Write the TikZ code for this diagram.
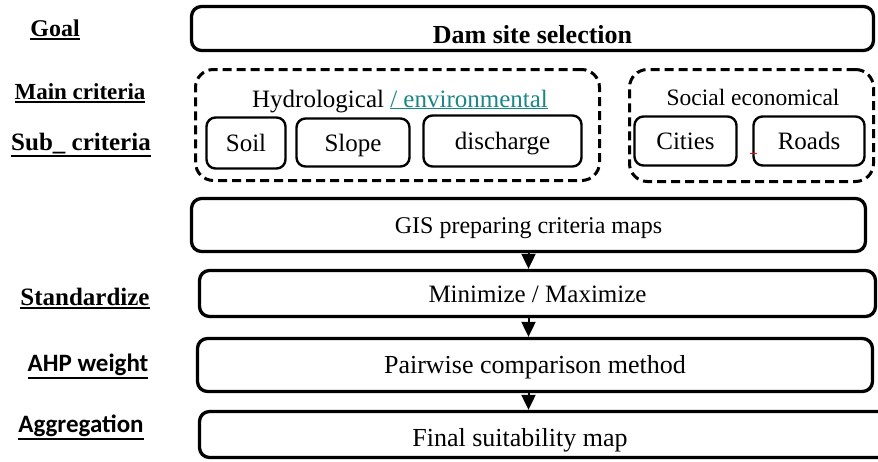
\documentclass[tikz,border=0pt]{standalone}
\usepackage{fontspec}
\setmainfont{Liberation Serif}
\newfontfamily\labelsans{Carlito}
\usetikzlibrary{arrows.meta}
\definecolor{envteal}{RGB}{26,135,132}
\newcommand{\thickul}[1]{\setbox0\hbox{#1}\dimen0=\dp0\advance\dimen0 by 4pt\rlap{\rule[-\dimen0]{\wd0}{2pt}}\box0}
\begin{document}
\begin{tikzpicture}[x=1pt,y=-1pt,
    stepbox/.style={draw, line width=3.3pt, rounded corners=10pt, font=\fontsize{25}{30}\selectfont, text height=17pt, text depth=0pt, inner sep=0pt},
    critbox/.style={draw, line width=2.4pt, rounded corners=9pt, font=\fontsize{25}{30}\selectfont, text height=17pt, text depth=0pt, inner sep=0pt},
    groupbox/.style={draw, line width=3pt, dash pattern=on 9pt off 5pt, rounded corners=18pt, inner sep=0pt},
    sidelabel/.style={anchor=base, font=\bfseries\fontsize{24}{28}\selectfont},
    flowarrow/.style={line width=2pt, -{Triangle[width=14pt,length=15pt]}}]
    \useasboundingbox (0,0) rectangle (878,461);
    \node[sidelabel] (goallbl) at (55,36) {\thickul{Goal}};
    \node[sidelabel, font=\bfseries\fontsize{23}{28}\selectfont] (mainlbl) at (80,99) {\thickul{Main criteria}};
    \node[sidelabel, font=\bfseries\fontsize{25}{28}\selectfont] (sublbl) at (81,150) {\thickul{Sub\_ criteria}};
    \node[sidelabel, font=\bfseries\fontsize{25}{28}\selectfont] (stdlbl) at (85,305) {\thickul{Standardize}};
    \node[sidelabel, font=\labelsans\bfseries\fontsize{25}{28}\selectfont] (ahplbl) at (88,371) {\thickul{AHP weight}};
    \node[sidelabel, font=\labelsans\bfseries\fontsize{25}{28}\selectfont] (agglbl) at (81,432) {\thickul{Aggregation}};
    \node[stepbox, minimum width=682, minimum height=44, font=\bfseries\fontsize{26}{30}\selectfont, text height=29pt] (goal) at (532.5,28.5) {Dam site selection};
    \node[groupbox, minimum width=404, minimum height=111] (hydro) at (397.5,125) {};
    \node[groupbox, minimum width=244, minimum height=112] (socio) at (751.5,125.5) {};
    \node[anchor=base, font=\fontsize{25}{30}\selectfont] (hydrotitle) at (400,107) {Hydrological \textcolor{envteal}{\underline{/ environmental}}};
    \node[anchor=base, font=\fontsize{23.5}{28}\selectfont] (sociotitle) at (753,105) {Social economical};
    \node[critbox, minimum width=79, minimum height=51] (soil) at (246,143) {Soil};
    \node[critbox, minimum width=113, minimum height=48] (slope) at (353,142.5) {Slope};
    \node[critbox, minimum width=158, minimum height=51] (discharge) at (502.5,141) {discharge};
    \node[critbox, minimum width=102, minimum height=49] (cities) at (685.5,141) {Cities};
    \node[critbox, minimum width=111, minimum height=49] (roads) at (809,141) {Roads};
    \draw[red, line width=1pt] (750,153) -- (757,153);
    \node[stepbox, minimum width=674, minimum height=53, font=\fontsize{24}{30}\selectfont] (gis) at (528.5,225) {GIS preparing criteria maps};
    \node[stepbox, minimum width=676, minimum height=46] (minmax) at (537.5,293.5) {Minimize / Maximize};
    \node[stepbox, minimum width=675, minimum height=53, font=\fontsize{26}{30}\selectfont] (pairwise) at (535,365) {Pairwise comparison method};
    \node[stepbox, minimum width=709, minimum height=46, label={[font=\fontsize{26}{30}\selectfont, text height=17pt, text depth=0pt, xshift=-34pt, yshift=-3pt]center:Final suitability map}] (fin) at (554,434.5) {};
    \draw[flowarrow] (gis.south) -- (gis.south |- minmax.north);
    \draw[flowarrow] (gis.south |- minmax.south) -- (gis.south |- pairwise.north);
    \draw[flowarrow] (gis.south |- pairwise.south) -- (gis.south |- fin.north);
\end{tikzpicture}
\end{document}
